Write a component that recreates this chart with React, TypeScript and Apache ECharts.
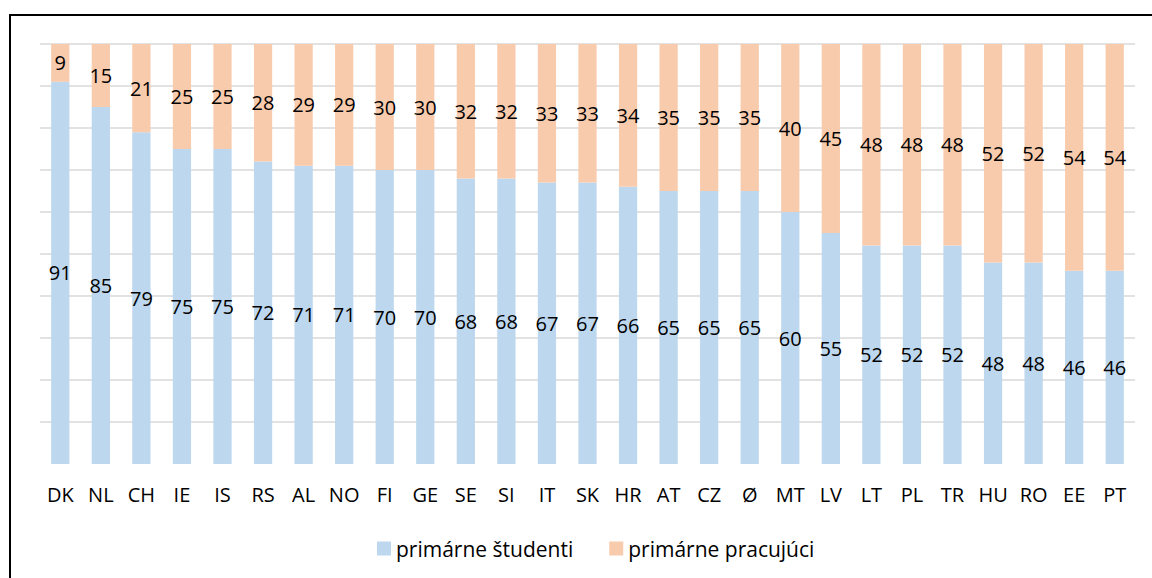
import React, { useEffect, useRef } from "react";
import * as echarts from "echarts";

const categories = ["DK","NL","CH","IE","IS","RS","AL","NO","FI","GE","SE","SI","IT","SK","HR","AT","CZ","Ø","MT","LV","LT","PL","TR","HU","RO","EE","PT"];
const students = [91,85,79,75,75,72,71,71,70,70,68,68,67,67,66,65,65,65,60,55,52,52,52,48,48,46,46];
const workers = [9,15,21,25,25,28,29,29,30,30,32,32,33,33,34,35,35,35,40,45,48,48,48,52,52,54,54];
const seriesNames = ["primárne študenti", "primárne pracujúci"];

const FONT = "'Open Sans', 'Noto Sans', sans-serif";

export default function App() {
  const ref = useRef<HTMLDivElement>(null);
  useEffect(() => {
    if (!ref.current) return;
    const chart = echarts.init(ref.current, undefined, { renderer: "svg" });
    const label = {
      show: true,
      position: "inside",
      color: "#000",
      fontSize: 20,
      fontFamily: FONT,
    };
    chart.setOption({
      animation: false,
      textStyle: { fontFamily: FONT },
      grid: { left: 40, right: 17, top: 44, bottom: 114 },
      graphic: [
        {
          type: "rect",
          shape: { x: 10, y: 15, width: 1160, height: 620 },
          style: { fill: "none", stroke: "#000", lineWidth: 2 },
          silent: true,
        },
      ],
      legend: {
        bottom: 14,
        left: 372,
        itemWidth: 14,
        itemHeight: 14,
        itemGap: 36,
        icon: "rect",
        textStyle: { fontSize: 21, color: "#000", fontFamily: FONT },
        data: seriesNames,
      },
      xAxis: {
        type: "category",
        data: categories,
        axisTick: { show: false },
        axisLine: { show: false },
        axisLabel: { color: "#000", fontSize: 20, margin: 20, fontFamily: FONT, interval: 0 },
      },
      yAxis: {
        type: "value",
        min: 0,
        max: 100,
        interval: 10,
        axisLabel: { show: false },
        axisLine: { show: false },
        axisTick: { show: false },
        splitLine: { showMinLine: false, lineStyle: { color: "#D9D9D9", width: 1.5 } },
      },
      series: [
        {
          name: seriesNames[0],
          type: "bar",
          stack: "a",
          data: students,
          barWidth: "45%",
          itemStyle: { color: "#BDD7EE" },
          label,
        },
        {
          name: seriesNames[1],
          type: "bar",
          stack: "a",
          data: workers,
          barWidth: "45%",
          itemStyle: { color: "#F8CBAD" },
          label,
        },
      ],
    });
    return () => chart.dispose();
  }, []);
  return (
    <div
      ref={ref}
      style={{ position: "fixed", left: 0, top: 0, width: 1152, height: 578, background: "#fff" }}
    />
  );
}
